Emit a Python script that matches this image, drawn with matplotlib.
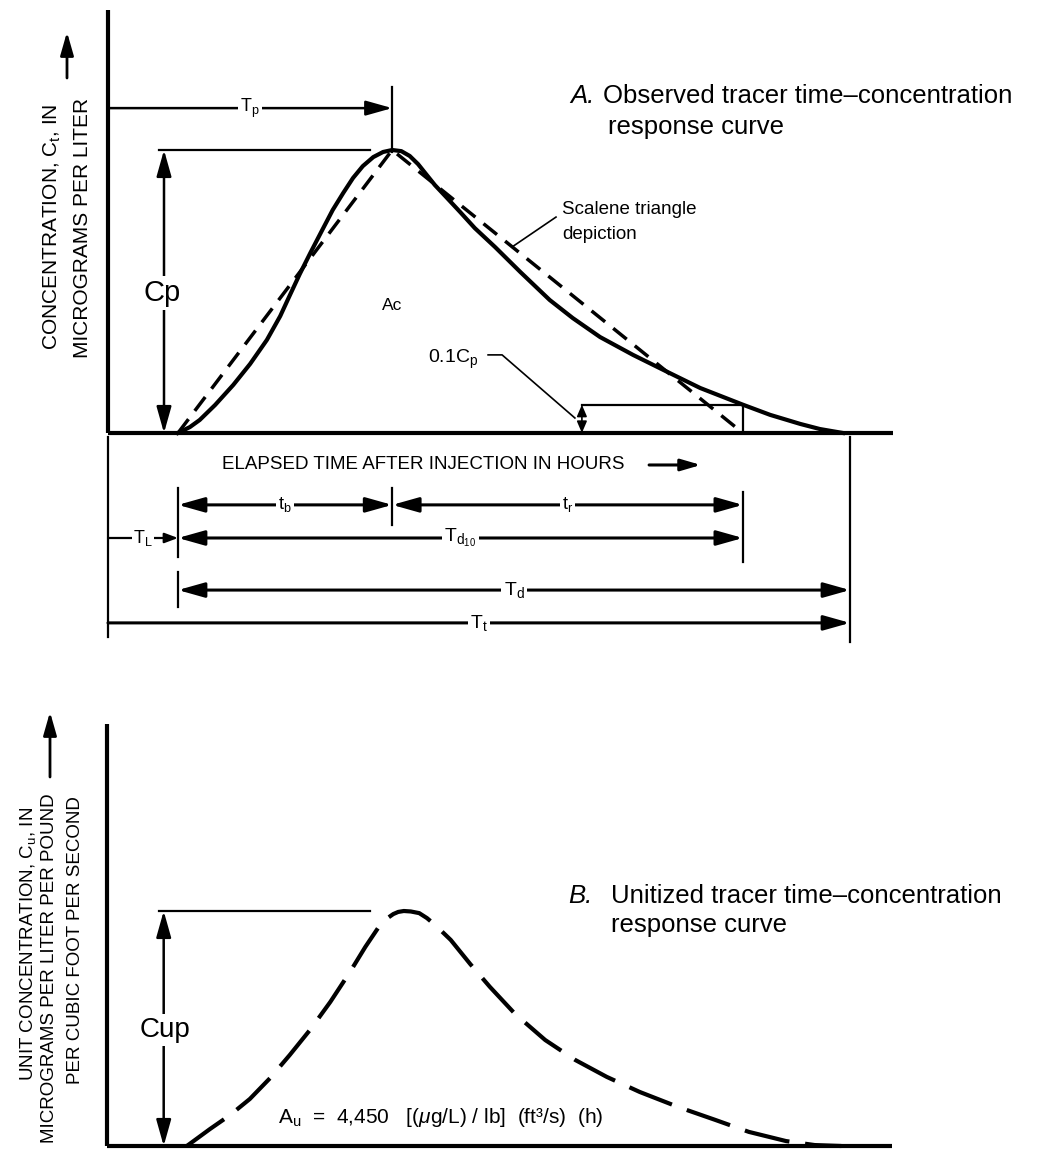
import matplotlib
matplotlib.use('Agg')
import matplotlib.pyplot as plt
from matplotlib.patches import FancyArrowPatch

plt.rcParams['font.family'] = ['Liberation Sans', 'DejaVu Sans']
plt.rcParams['mathtext.fontset'] = 'custom'
plt.rcParams['mathtext.rm'] = 'Liberation Sans'
plt.rcParams['mathtext.it'] = 'Liberation Sans:italic'
plt.rcParams['mathtext.bf'] = 'Liberation Sans:bold'

# observed tracer response, hours after injection vs concentration (ug/L)
obs_time = [1.00, 1.17, 1.31, 1.53, 1.79, 2.03, 2.27, 2.46, 2.60, 2.74, 2.89, 3.06, 3.21, 3.36,
            3.50, 3.64, 3.79, 3.93, 4.06, 4.19, 4.31, 4.43, 4.53, 4.67, 4.83, 5.03, 5.24, 5.53,
            5.89, 6.31, 6.64, 7.03, 7.50, 7.99, 8.46, 9.07, 9.46, 9.89, 10.17, 10.50]
obs_conc = [0.00, 0.21, 0.46, 0.99, 1.70, 2.44, 3.29, 4.13, 4.88, 5.62, 6.36, 7.17, 7.88, 8.48,
            9.01, 9.43, 9.75, 9.93, 10.00, 9.96, 9.79, 9.50, 9.19, 8.76, 8.34, 7.81, 7.24, 6.57,
            5.69, 4.70, 4.06, 3.39, 2.76, 2.16, 1.59, 1.00, 0.64, 0.32, 0.14, 0.00]

# scalene triangle approximation
tri_time = [1.00, 4.06, 9.07]
tri_conc = [0.0, 10.0, 0.0]

# unitized response curve
unit_time = [1.14, 1.47, 1.76, 2.04, 2.33, 2.61, 2.90, 3.19, 3.47, 3.69, 3.90, 3.97, 4.09, 4.16,
             4.24, 4.34, 4.46, 4.57, 4.69, 4.91, 5.19, 5.47, 5.83, 6.26, 6.69, 7.14, 7.61, 8.16,
             8.69, 9.17, 9.70, 10.11, 10.49]
unit_conc = [0.00, 0.72, 1.32, 2.00, 2.89, 3.87, 4.94, 6.13, 7.40, 8.47, 9.40, 9.62, 9.87, 9.96,
             10.00, 9.98, 9.91, 9.70, 9.40, 8.77, 7.74, 6.77, 5.62, 4.51, 3.66, 2.94, 2.30, 1.66,
             1.11, 0.60, 0.21, 0.04, 0.00]

T_L = 1.00
T_p = 4.06
T_d10_end = 9.07
T_t = 10.60
C_p = 10.0
C_up = 10.0
A_u = 4450

W, H = 1047, 1149
fig = plt.figure(figsize=(W / 100, H / 100), dpi=100)

# top panel: 70 px per hour, 28.3 px per ug/L, origin at (108, 433)
ax = fig.add_axes([0, 1 - 700 / H, 1, 700 / H])
ax.set_xlim(-108 / 70, (W - 108) / 70)
ax.set_ylim(-(700 - 433) / 28.3, 433 / 28.3)
ax.axis('off')

# bottom panel: 70 px per hour, 23.5 px per unit, origin at (107, 1146)
bx = fig.add_axes([0, 0, 1, 449 / H])
bx.set_xlim(-107 / 70, (W - 107) / 70)
bx.set_ylim(-3 / 23.5, 446 / 23.5)
bx.axis('off')


def arrow(a, p0, p1, style='-|>', hl=1.6, hw=0.45, lw=1.8, transform=None):
    kw = {} if transform is None else {'transform': transform}
    a.add_artist(FancyArrowPatch(p0, p1, arrowstyle=f'{style},head_length={hl},head_width={hw}',
                                 mutation_scale=10, lw=lw, color='black',
                                 shrinkA=0, shrinkB=0, zorder=2, **kw))


def label(a, x, y, s, size=13, pad=1.5):
    a.text(x, y, s, ha='center', va='center', fontsize=size, zorder=4,
           bbox=dict(fc='white', ec='none', pad=pad))


# ---- A. observed curve ----
ax.plot([0, 0], [0, 14.95], color='black', lw=3, solid_capstyle='butt')
ax.plot([0, 11.21], [0, 0], color='black', lw=3, solid_capstyle='butt')
ax.plot(obs_time, obs_conc, color='black', lw=3, solid_joinstyle='round')
ax.plot(tri_time, tri_conc, color='black', lw=2.5, ls=(0, (5, 3)))

# Cp
ax.plot([0.73, 3.74], [C_p, C_p], color='black', lw=1.6)
arrow(ax, (0.80, 0), (0.80, C_p), style='<|-|>')
label(ax, 0.77, 4.95, 'Cp', size=21, pad=2)

# Tp
ax.plot([T_p, T_p], [9.93, 12.23], color='black', lw=1.6)
arrow(ax, (0, 11.48), (T_p, 11.48))
label(ax, 2.03, 11.48, r'$\mathregular{T_p}$', size=13)

ax.text(4.06, 4.52, 'Ac', ha='center', va='center', fontsize=12.5)

# scalene note
ax.text(6.49, 7.74, 'Scalene triangle', fontsize=13.5, va='baseline')
ax.text(6.49, 6.86, 'depiction', fontsize=13.5, va='baseline')
ax.plot([6.40, 5.77], [7.63, 6.57], color='black', lw=1.2)

# 0.1 Cp box
ax.plot([6.77, T_d10_end], [0.1 * C_p, 0.1 * C_p], color='black', lw=1.6)
ax.plot([T_d10_end, T_d10_end], [0, 0.1 * C_p], color='black', lw=1.6)
arrow(ax, (6.77, 0), (6.77, 0.1 * C_p), style='<|-|>', hl=0.7, hw=0.3, lw=1.2)
ax.text(4.57, 2.47, r'$\mathregular{0.1C_p}$', fontsize=14, va='baseline')
ax.plot([5.43, 5.63, 6.67], [2.76, 2.76, 0.53], color='black', lw=1.2)

# title A
ax.text(6.60, 11.66, 'A.', fontsize=18.5, style='italic', va='baseline')
ax.text(7.07, 11.66, 'Observed tracer time\u2013concentration', fontsize=18.5, va='baseline')
ax.text(7.14, 10.57, 'response curve', fontsize=18.5, va='baseline')

# elapsed time axis note
ax.text(1.63, -1.13, 'ELAPSED TIME AFTER INJECTION IN HOURS', fontsize=13.5, va='center')
arrow(ax, (7.73, -1.13), (8.47, -1.13), hl=1.2, hw=0.35, lw=2.2)

# dimension lines below the time axis
ax.plot([0, 0], [-0.14, -7.21], color='black', lw=1.6)
ax.plot([T_t, T_t], [-0.14, -7.39], color='black', lw=1.6)
ax.plot([T_L, T_L], [-1.94, -4.38], color='black', lw=1.6)
ax.plot([T_p, T_p], [-1.94, -3.25], color='black', lw=1.6)
ax.plot([T_d10_end, T_d10_end], [-2.08, -4.56], color='black', lw=1.6)
ax.plot([T_L, T_L], [-4.91, -6.15], color='black', lw=1.6)

y_tb, y_d10, y_d, y_t = -2.54, -3.71, -5.55, -6.71
arrow(ax, (T_L, y_tb), (T_p, y_tb), style='<|-|>', lw=2.2)
label(ax, (T_L + T_p) / 2, y_tb, r'$\mathregular{t_b}$')
arrow(ax, (T_p, y_tb), (T_d10_end, y_tb), style='<|-|>', lw=2.2)
label(ax, (T_p + T_d10_end) / 2, y_tb, r'$\mathregular{t_r}$')
arrow(ax, (T_L, y_d10), (T_d10_end, y_d10), style='<|-|>', lw=2.2)
label(ax, (T_L + T_d10_end) / 2, y_d10, r'$\mathregular{T_{d_{10}}}$', size=14)
arrow(ax, (0, y_d10), (T_L, y_d10), hl=0.8, hw=0.3, lw=1.6)
label(ax, T_L / 2, y_d10, r'$\mathregular{T_L}$', pad=1)
arrow(ax, (T_L, y_d), (T_t, y_d), style='<|-|>', lw=2.2)
label(ax, (T_L + T_t) / 2, y_d, r'$\mathregular{T_d}$', size=14)
arrow(ax, (0, y_t), (T_t, y_t), lw=2.2)
label(ax, T_t / 2, y_t, r'$\mathregular{T_t}$', size=14)

# y label, top panel
fig.text(52 / W, 1 - 227 / H, r'CONCENTRATION, $\mathregular{C_t}$, IN', rotation=90,
         ha='center', va='center', fontsize=15)
fig.text(82 / W, 1 - 228 / H, 'MICROGRAMS PER LITER', rotation=90,
         ha='center', va='center', fontsize=15)
arrow(fig, (67 / W, 1 - 78 / H), (67 / W, 1 - 32 / H), hl=1.4, hw=0.4, lw=2.0,
      transform=fig.transFigure)

# ---- B. unitized curve ----
bx.plot([0, 0], [0, 17.96], color='black', lw=3, solid_capstyle='butt')
bx.plot([0, 11.21], [0, 0], color='black', lw=3, solid_capstyle='butt')
bx.plot(unit_time, unit_conc, color='black', lw=3, ls=(0, (11, 3.8)))

bx.plot([0.74, 3.76], [C_up, C_up], color='black', lw=1.6)
arrow(bx, (0.81, 0), (0.81, C_up), style='<|-|>')
label(bx, 0.83, 4.94, 'Cup', size=20, pad=2)

bx.text(2.44, 1.23, r'$\mathregular{A_u}$  =  ' + f'{A_u:,}' +
        r'   [($\mu$g/L) / lb]  (ft³/s)  (h)', fontsize=15, va='center')

bx.text(6.59, 10.34, 'B.', fontsize=18.5, style='italic', va='baseline')
bx.text(7.20, 10.34, 'Unitized tracer time\u2013concentration', fontsize=18.5, va='baseline')
bx.text(7.20, 9.11, 'response curve', fontsize=18.5, va='baseline')

fig.text(28 / W, 1 - 944 / H, r'UNIT CONCENTRATION, $\mathregular{C_u}$, IN', rotation=90,
         ha='center', va='center', fontsize=13.5)
fig.text(50 / W, 1 - 968 / H, 'MICROGRAMS PER LITER PER POUND', rotation=90,
         ha='center', va='center', fontsize=13.5)
fig.text(76 / W, 1 - 940 / H, 'PER CUBIC FOOT PER SECOND', rotation=90,
         ha='center', va='center', fontsize=13.5)
arrow(fig, (50 / W, 1 - 777 / H), (50 / W, 1 - 712 / H), hl=1.4, hw=0.4, lw=2.0,
      transform=fig.transFigure)

fig.savefig('out.png', dpi=100, facecolor='white')
